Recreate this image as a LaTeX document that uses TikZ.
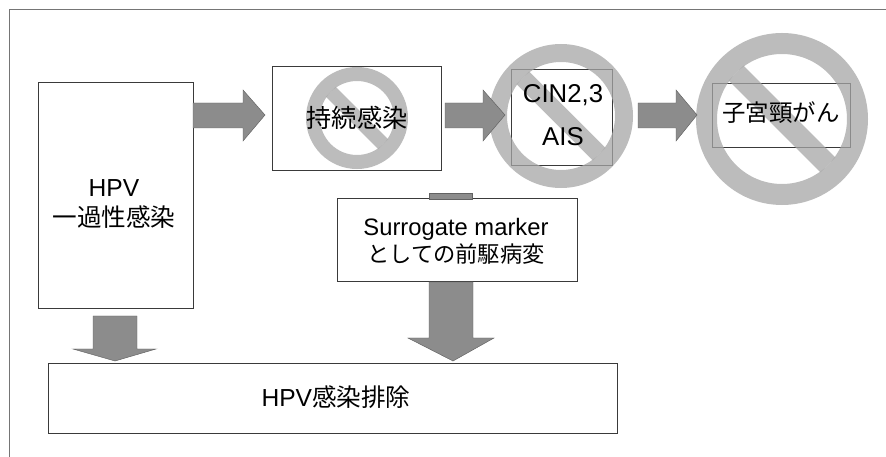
\documentclass[tikz,border=0pt]{standalone}
\usepackage{fontspec}
\setmainfont{Liberation Sans}
\newfontfamily\cjk{Noto Sans CJK JP}
\usepackage{tikz}
\usetikzlibrary{calc,arrows.meta,positioning}
\definecolor{arrowgray}{HTML}{8C8C8C}
\definecolor{ringgray}{HTML}{A6A6A6}
\definecolor{edgegray}{HTML}{3A3A3A}
\tikzset{
  stagebox/.style={draw=edgegray,fill=white,inner sep=0pt,align=center},
  stagelabel/.style={inner sep=0pt,align=center,font=\fontsize{21}{25.6}\selectfont},
  blockarrow/.style={fill=arrowgray,draw=arrowgray!70!black,thin},
  noring/.style={draw=ringgray,fill=none,opacity=.75},
  nobar/.style={draw=ringgray,line cap=butt,opacity=.75}
}
\begin{document}
\begin{tikzpicture}[x=.03cm,y=-.03cm]
\useasboundingbox (0,0) rectangle (886,457);
\draw[edgegray!70] (886,9)--(9,9)--(9,457);
%% boxes
\node[stagebox,minimum width=4.65cm,minimum height=6.78cm] (hpvbox) at (115.5,195) {};
\node[stagelabel] (hpvtext) at (114,204) {HPV\\{\cjk 一過性感染}};
\node[stagebox,minimum width=5.07cm,minimum height=3.12cm] (persistbox) at (357,118) {};
\node[stagebox,minimum width=3.03cm,minimum height=2.88cm] (cinbox) at (562,117) {};
\node[stagebox,minimum width=4.14cm,minimum height=1.92cm] (cancerbox) at (781,115) {};
\node[stagebox,minimum width=7.2cm,minimum height=2.49cm] (markerbox) at (457,240) {};
\node[stagelabel,font=\fontsize{20.3}{23}\selectfont] (markertext) at (456,241) {Surrogate marker\\{\cjk\fontsize{19}{23}\selectfont としての前駆病変}};
\node[stagebox,minimum width=17.07cm,minimum height=2.1cm] (clearbox) at (332.5,398) {};
\node[stagelabel] (cleartext) at (336,397) {HPV{\cjk 感染排除}};
%% prohibition signs
\foreach \cx/\cy/\r/\w in {357/118/44/14,561/116/63/18,782/119/75.5/21}{
  \draw[noring,line width=\w*.03cm] (\cx,\cy) circle (\r);
  \draw[nobar,line width=\w*.03cm] ($(\cx,\cy)+({-.707*(\r-\w/2)},{-.707*(\r-\w/2)})$)--($(\cx,\cy)+({.707*(\r-\w/2)},{.707*(\r-\w/2)})$);
}
%% arrows
\foreach \x/\xb/\xt in {193/243/265,445/483/505,638/676/697}{
  \path[blockarrow] (\x,103)--(\xb,103)--(\xb,90)--(\xt,115)--(\xb,141)--(\xb,128)--(\x,128)--cycle;
}
\path[blockarrow] (93,316)--(137,316)--(137,349)--(156,349)--(115,361)--(73,349)--(93,349)--cycle;
\path[blockarrow] (429,282)--(473,282)--(473,338)--(494,338)--(453,361)--(408,338)--(429,338)--cycle;
\path[blockarrow] (429,193) rectangle (472,199);
%% labels over the signs
\node[stagelabel,font=\fontsize{21.5}{25}\selectfont] (persisttext) at (357,118) {\cjk 持続感染};
\node[stagelabel,font=\fontsize{22}{25}\selectfont] (cintext) at (563,115) {CIN2,3\\[12pt]AIS};
\node[stagelabel,font=\fontsize{20}{25}\selectfont] (cancertext) at (781,113) {\cjk 子宮頸がん};
\end{tikzpicture}
\end{document}
